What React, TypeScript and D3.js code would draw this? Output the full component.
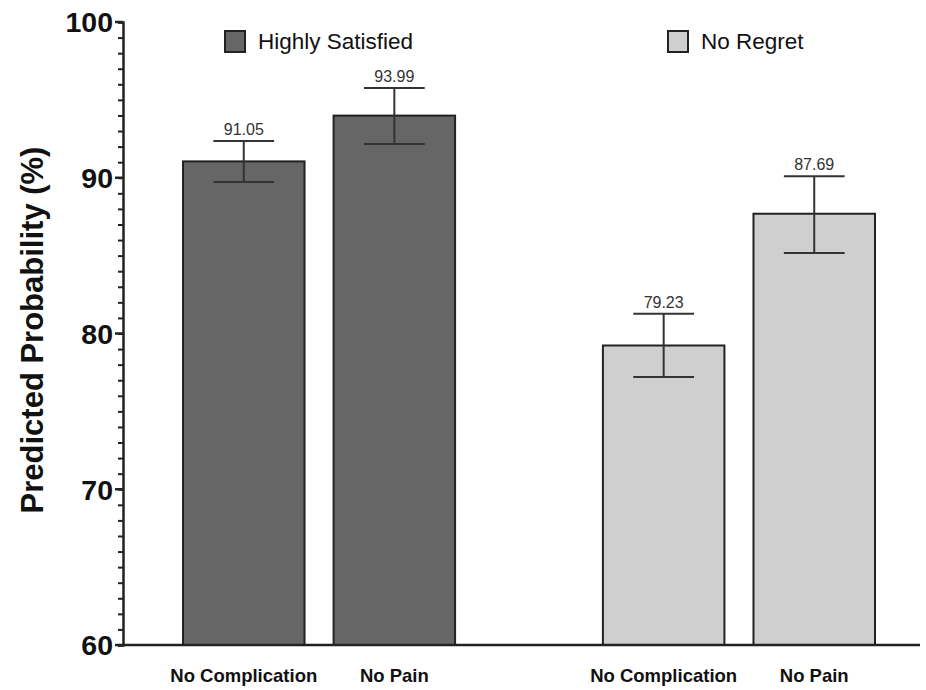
import React, { useEffect, useRef } from "react";
import * as d3 from "d3";

// data
const groups = ["Highly Satisfied", "No Regret"];
const categories = ["No Complication", "No Pain"];
const satisfiedValues = [91.05, 93.99];
const satisfiedLow = [89.73, 92.17];
const satisfiedHigh = [92.36, 95.76];
const regretValues = [79.23, 87.69];
const regretLow = [77.2, 85.17];
const regretHigh = [81.27, 90.1];
const yTicks = [60, 70, 80, 90, 100];
const groupColors = ["#666666", "#d0cfd0"];

export default function App() {
  const ref = useRef<SVGSVGElement>(null);

  useEffect(() => {
    const svg = d3.select(ref.current);
    svg.selectAll("*").remove();
    const width = 926,
      height = 690;
    const margin = { top: 22, right: 6, bottom: 45, left: 123 };
    const font = "'Liberation Sans', Arial, sans-serif";

    const rows = [
      { values: satisfiedValues, low: satisfiedLow, high: satisfiedHigh },
      { values: regretValues, low: regretLow, high: regretHigh },
    ];
    const data = groups.flatMap((g, gi) =>
      categories.map((c, ci) => ({
        group: g,
        gi,
        cat: c,
        value: rows[gi].values[ci],
        low: rows[gi].low[ci],
        high: rows[gi].high[ci],
      }))
    );

    const yScale = d3
      .scaleLinear()
      .domain([60, 100])
      .range([height - margin.bottom, margin.top]);
    const x0 = d3
      .scaleBand()
      .domain(groups)
      .range([183, 875])
      .paddingInner(0.352);
    const x1 = d3
      .scaleBand()
      .domain(categories)
      .range([0, x0.bandwidth()])
      .paddingInner(0.193);

    // bars
    const bars = svg.append("g");
    bars
      .selectAll("rect")
      .data(data)
      .enter()
      .append("rect")
      .attr("x", (d) => x0(d.group)! + x1(d.cat)!)
      .attr("y", (d) => yScale(d.value))
      .attr("width", x1.bandwidth())
      .attr("height", (d) => yScale(60) - yScale(d.value))
      .attr("fill", (d) => groupColors[d.gi])
      .attr("stroke", "#222")
      .attr("stroke-width", 2);

    // error bars
    const capW = x1.bandwidth() / 2;
    const err = svg
      .append("g")
      .attr("stroke", "#333")
      .attr("stroke-width", 2);
    data.forEach((d) => {
      const cx = x0(d.group)! + x1(d.cat)! + x1.bandwidth() / 2;
      err
        .append("line")
        .attr("x1", cx)
        .attr("x2", cx)
        .attr("y1", yScale(d.low))
        .attr("y2", yScale(d.high));
      [d.low, d.high].forEach((v) => {
        err
          .append("line")
          .attr("x1", cx - capW / 2)
          .attr("x2", cx + capW / 2)
          .attr("y1", yScale(v))
          .attr("y2", yScale(v));
      });
      svg
        .append("text")
        .attr("x", cx)
        .attr("y", yScale(d.high) - 6)
        .attr("text-anchor", "middle")
        .style("font-family", font)
        .style("font-size", "16px")
        .attr("fill", "#333")
        .text(d.value.toFixed(2));
    });

    // y axis
    const yAxis = svg
      .append("g")
      .attr("transform", `translate(${margin.left},0)`)
      .call(
        d3
          .axisLeft(yScale)
          .tickValues(d3.range(60, 101, 1))
          .tickSize(5)
          .tickFormat(() => "")
      );
    yAxis.select(".domain").attr("stroke", "#222").attr("stroke-width", 2.5);
    yAxis.selectAll(".tick line").attr("stroke", "#222").attr("stroke-width", 2);
    yAxis.selectAll(".tick text").remove();
    const major = svg.append("g").attr("transform", `translate(${margin.left},0)`);
    yTicks.forEach((t) => {
      major
        .append("line")
        .attr("x1", -8)
        .attr("x2", 0)
        .attr("y1", yScale(t))
        .attr("y2", yScale(t))
        .attr("stroke", "#222")
        .attr("stroke-width", 2.5);
      major
        .append("text")
        .attr("x", -10)
        .attr("y", yScale(t))
        .attr("dy", "0.36em")
        .attr("text-anchor", "end")
        .style("font-family", font)
        .style("font-weight", "bold")
        .style("font-size", "28.5px")
        .attr("fill", "#111")
        .text(t);
    });

    // x axis
    svg
      .append("line")
      .attr("x1", margin.left)
      .attr("x2", width - margin.right)
      .attr("y1", yScale(60))
      .attr("y2", yScale(60))
      .attr("stroke", "#222")
      .attr("stroke-width", 2.5);
    data.forEach((d) => {
      svg
        .append("text")
        .attr("x", x0(d.group)! + x1(d.cat)! + x1.bandwidth() / 2)
        .attr("y", 682)
        .attr("text-anchor", "middle")
        .style("font-family", font)
        .style("font-weight", "bold")
        .style("font-size", "18.5px")
        .attr("fill", "#111")
        .text(d.cat);
    });

    // y label
    svg
      .append("text")
      .attr("transform", "translate(43,330)rotate(-90)")
      .attr("text-anchor", "middle")
      .style("font-family", font)
      .style("font-weight", "bold")
      .style("font-size", "31px")
      .attr("fill", "#111")
      .text("Predicted Probability (%)");

    // legend
    const legendX = [225, 668];
    groups.forEach((g, i) => {
      svg
        .append("rect")
        .attr("x", legendX[i])
        .attr("y", 31)
        .attr("width", 20)
        .attr("height", 21)
        .attr("fill", groupColors[i])
        .attr("stroke", "#222")
        .attr("stroke-width", 2);
      svg
        .append("text")
        .attr("x", legendX[i] + 33)
        .attr("y", 49)
        .style("font-family", font)
        .style("font-size", "22.5px")
        .attr("fill", "#111")
        .text(g);
    });
  }, []);

  return (
    <svg
      ref={ref}
      width={926}
      height={690}
      style={{ position: "absolute", left: 0, top: 0, background: "#fff" }}
    ></svg>
  );
}
